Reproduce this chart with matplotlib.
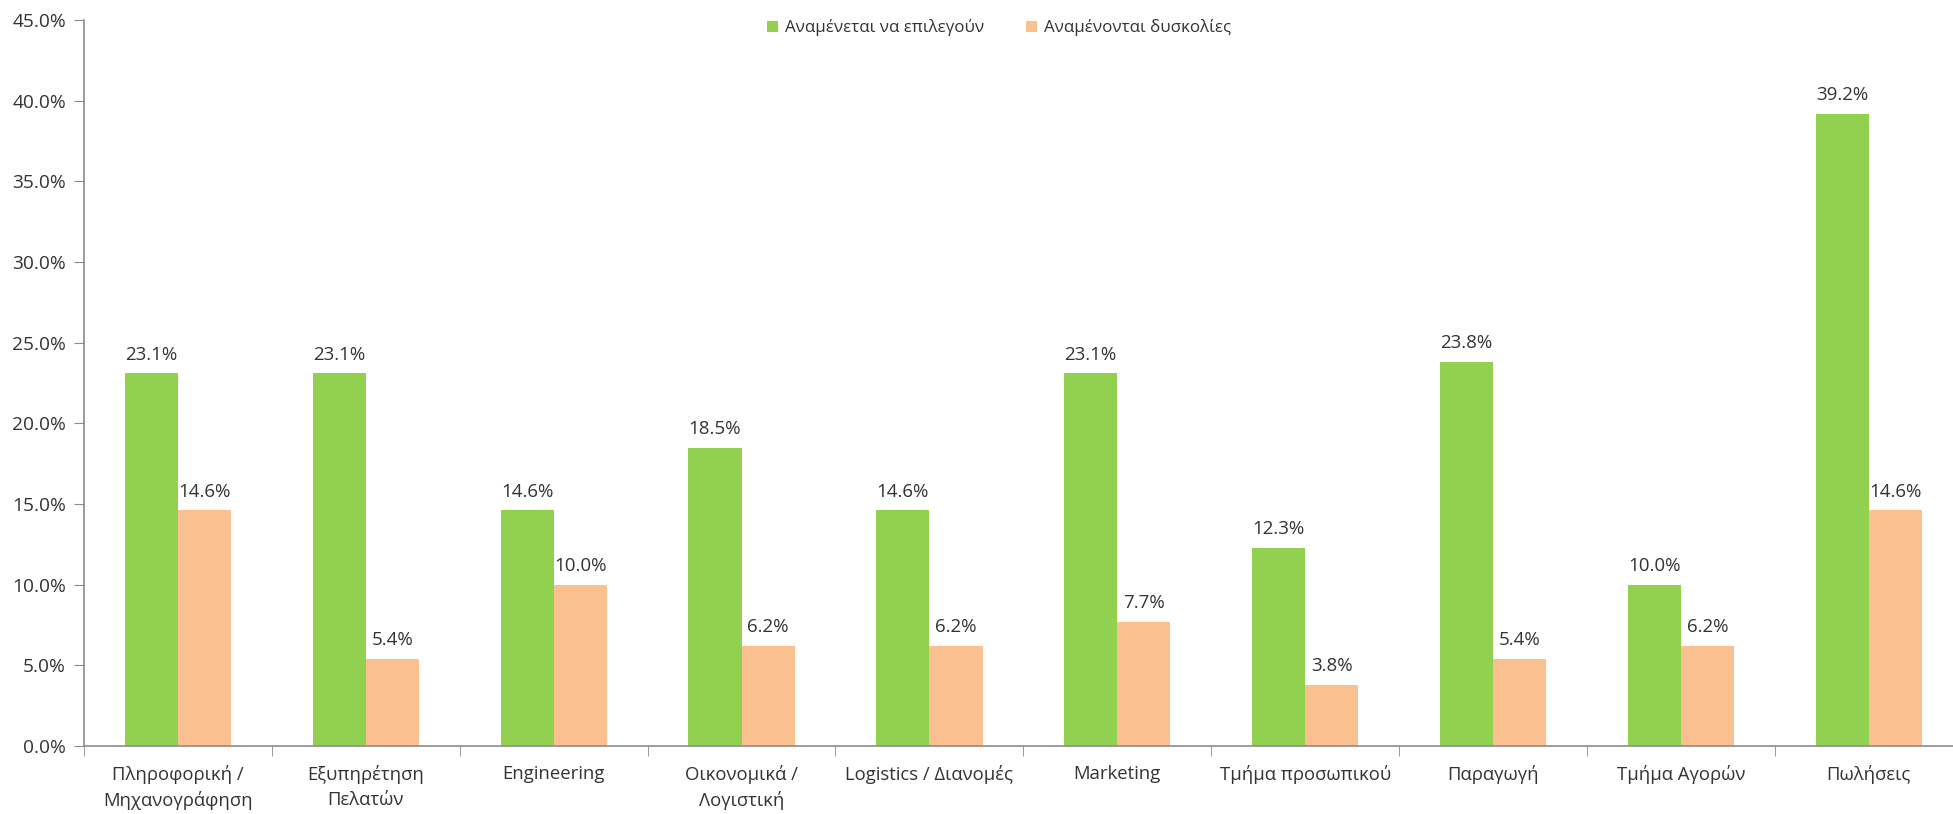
import matplotlib
matplotlib.use("Agg")
import matplotlib.pyplot as plt
import numpy as np
from matplotlib.ticker import FuncFormatter, FixedLocator

plt.rcParams["font.family"] = ["Open Sans", "DejaVu Sans"]

categories = [
    "Πληροφορική /\nΜηχανογράφηση",
    "Εξυπηρέτηση\nΠελατών",
    "Engineering",
    "Οικονομικά /\nΛογιστική",
    "Logistics / Διανομές",
    "Marketing",
    "Τμήμα προσωπικού",
    "Παραγωγή",
    "Τμήμα Αγορών",
    "Πωλήσεις",
]
expected = [23.1, 23.1, 14.6, 18.5, 14.6, 23.1, 12.3, 23.8, 10.0, 39.2]
difficult = [14.6, 5.4, 10.0, 6.2, 6.2, 7.7, 3.8, 5.4, 6.2, 14.6]
series_names = ["Αναμένεται να επιλεγούν", "Αναμένονται δυσκολίες"]

GREEN = "#92D050"
ORANGE = "#FAC090"
TEXT = "#333333"
AXIS = "#8c8c8c"

fig = plt.figure(figsize=(19.53, 8.14), dpi=100)
# plot area runs slightly past the right edge of the canvas
ax = fig.add_axes([0.043, 0.0835, 0.962, 0.892])

x = np.arange(len(categories))
w = 0.283
b1 = ax.bar(x - w / 2, expected, w, color=GREEN, label=series_names[0])
b2 = ax.bar(x + w / 2, difficult, w, color=ORANGE, label=series_names[1])

for bars, vals in ((b1, expected), (b2, difficult)):
    for bar, v in zip(bars, vals):
        ax.annotate(f"{v:.1f}%", (bar.get_x() + bar.get_width() / 2, v),
                    xytext=(0, 7), textcoords="offset points",
                    ha="center", va="bottom", fontsize=13.5, color=TEXT)

ax.set_xlim(-0.5, len(categories) - 0.5)
ax.set_ylim(0, 45)
ax.set_yticks(np.arange(0, 46, 5))
ax.yaxis.set_major_formatter(FuncFormatter(lambda v, _: f"{v:.1f}%"))

ax.set_xticks(x)
ax.set_xticklabels(categories, fontsize=13.3, color=TEXT, linespacing=1.45)
ax.xaxis.set_minor_locator(FixedLocator(np.arange(-0.5, len(categories), 1.0)))
ax.tick_params(axis="x", which="major", length=0, pad=14)
ax.tick_params(axis="x", which="minor", length=7, color=AXIS, direction="out")
ax.tick_params(axis="y", length=7, color=AXIS, labelsize=13.8, labelcolor=TEXT, pad=6)

for side in ("top", "right"):
    ax.spines[side].set_visible(False)
for side in ("left", "bottom"):
    ax.spines[side].set_color(AXIS)
    ax.spines[side].set_linewidth(1.2)

leg = ax.legend(loc="upper center", bbox_to_anchor=(0.487, 1.022), ncol=2, frameon=False,
                fontsize=12.2, handlelength=0.65, handleheight=0.65, columnspacing=2.5,
                handletextpad=0.4)
for t in leg.get_texts():
    t.set_color(TEXT)

fig.savefig("out.png", dpi=100)
